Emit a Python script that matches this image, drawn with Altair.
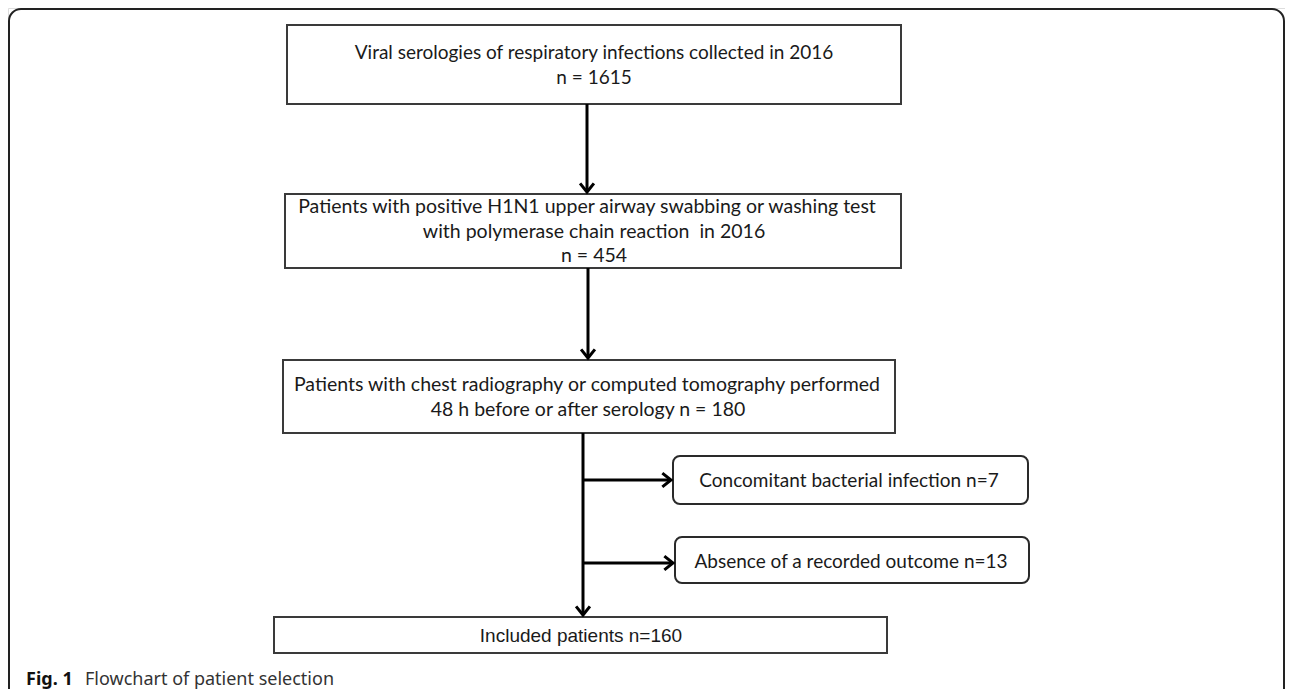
import altair as alt
import pandas as pd

# ---- content (data) ----
stage_labels = [
    ["Viral serologies of respiratory infections collected in 2016", "n = 1615"],
    ["Patients with positive H1N1 upper airway swabbing or washing test",
     "with polymerase chain reaction \u00a0in 2016", "n = 454"],
    ["Patients with chest radiography or computed tomography performed",
     "48 h before or after serology n = 180"],
]
excluded_labels = ["Concomitant bacterial infection n=7", "Absence of a recorded outcome n=13"]
final_label = "Included patients n=160"
caption_bold = "Fig. 1"
caption_text = "Flowchart of patient selection"

# ---- layout (pixel positions in the 1293x697 page) ----
main_boxes = [(287, 901, 25, 104), (285, 901, 194, 268), (283, 895, 360, 433), (274, 887, 617, 653)]
side_boxes = [(673, 1028, 456, 504), (675, 1029, 537, 583)]
frame_box = [(9, 1284, 9, 760)]
text_pos = [
    [(594, 53, 19), (594, 78, 19)],
    [(587, 207, 19.5), (594, 232, 19.5), (594, 256, 19.5)],
    [(587, 385, 19.5), (588, 410, 19.5)],
]
side_text_pos = [(849, 481, 19), (851, 562, 19)]
final_text_pos = (581, 636, 19)
caption_pos = (26, 685, 85)

v_arrows = [(587, 104, 192), (588, 268, 358), (583, 433, 615)]
h_arrows = [(480, 583, 671), (563, 583, 673)]

W, H = 1277, 681
xs = alt.Scale(domain=[8, 8 + W], nice=False, zero=False)
ys = alt.Scale(domain=[8, 8 + H], nice=False, zero=False, reverse=True)


def rect_df(rows):
    return pd.DataFrame(rows, columns=["x", "x2", "y", "y2"])


def rect_layer(rows, radius, stroke, sw):
    return alt.Chart(rect_df(rows)).mark_rect(
        filled=False, stroke=stroke, strokeWidth=sw, cornerRadius=radius
    ).encode(
        x=alt.X("x:Q", scale=xs, axis=None), x2="x2:Q",
        y=alt.Y("y:Q", scale=ys, axis=None), y2="y2:Q",
    )


frame = rect_layer(frame_box, 12, "#222222", 2)
mains = rect_layer(main_boxes, 0, "#3a3a3a", 2)
sides = rect_layer(side_boxes, 7, "#2a2a2a", 2)

# arrows (shafts)
shaft_rows = [{"x": x, "x2": x, "y": y1, "y2": y2} for x, y1, y2 in v_arrows]
shaft_rows += [{"x": x1, "x2": x2, "y": y, "y2": y} for y, x1, x2 in h_arrows]
shafts = alt.Chart(pd.DataFrame(shaft_rows)).mark_rule(
    stroke="black", strokeWidth=3
).encode(
    x=alt.X("x:Q", scale=xs, axis=None), x2="x2:Q",
    y=alt.Y("y:Q", scale=ys, axis=None), y2="y2:Q",
)

down_heads = alt.Chart(pd.DataFrame([{"x": x, "y": y2} for x, y1, y2 in v_arrows])).mark_point(
    shape="M-0.8,-1L0,0L0.8,-1", filled=False, stroke="black", strokeWidth=3,
    size=300, opacity=1, strokeJoin="miter", strokeCap="butt"
).encode(x=alt.X("x:Q", scale=xs, axis=None), y=alt.Y("y:Q", scale=ys, axis=None))

right_heads = alt.Chart(pd.DataFrame([{"x": x2, "y": y} for y, x1, x2 in h_arrows])).mark_point(
    shape="M-1,-0.8L0,0L-1,0.8", filled=False, stroke="black", strokeWidth=3,
    size=300, opacity=1, strokeJoin="miter", strokeCap="butt"
).encode(x=alt.X("x:Q", scale=xs, axis=None), y=alt.Y("y:Q", scale=ys, axis=None))

# texts
trows = []
for lines, poss in zip(stage_labels, text_pos):
    for t, (x, y, fs) in zip(lines, poss):
        trows.append({"x": x, "y": y, "t": t, "fs": fs})
for t, (x, y, fs) in zip(excluded_labels, side_text_pos):
    trows.append({"x": x, "y": y, "t": t, "fs": fs})

box_text = alt.Chart(pd.DataFrame(trows)).mark_text(
    font="Lato", color="#1a1a1a", align="center", baseline="middle"
).encode(
    x=alt.X("x:Q", scale=xs, axis=None), y=alt.Y("y:Q", scale=ys, axis=None),
    text="t:N", size=alt.Size("fs:Q", scale=None),
)

final_text = alt.Chart(pd.DataFrame([{"x": final_text_pos[0], "y": final_text_pos[1], "t": final_label}])).mark_text(
    font="Liberation Sans", fontSize=final_text_pos[2], color="#1a1a1a", align="center", baseline="middle"
).encode(x=alt.X("x:Q", scale=xs, axis=None), y=alt.Y("y:Q", scale=ys, axis=None), text="t:N")

cap1 = alt.Chart(pd.DataFrame([{"x": caption_pos[0], "y": caption_pos[1], "t": caption_bold}])).mark_text(
    font="Noto Sans", fontSize=18, fontWeight="bold", color="#111111", align="left", baseline="alphabetic"
).encode(x=alt.X("x:Q", scale=xs, axis=None), y=alt.Y("y:Q", scale=ys, axis=None), text="t:N")

cap2 = alt.Chart(pd.DataFrame([{"x": caption_pos[2], "y": caption_pos[1], "t": caption_text}])).mark_text(
    font="Noto Sans", fontSize=18, color="#333333", align="left", baseline="alphabetic"
).encode(x=alt.X("x:Q", scale=xs, axis=None), y=alt.Y("y:Q", scale=ys, axis=None), text="t:N")

chart = alt.layer(
    frame, mains, sides, shafts, down_heads, right_heads, box_text, final_text, cap1, cap2
).properties(
    width=W, height=H, padding=0, autosize=alt.AutoSizeParams(type="none")
).configure_view(stroke=None).configure(background="white")

chart.save("out.html", embed_options={"renderer": "svg", "actions": False})
